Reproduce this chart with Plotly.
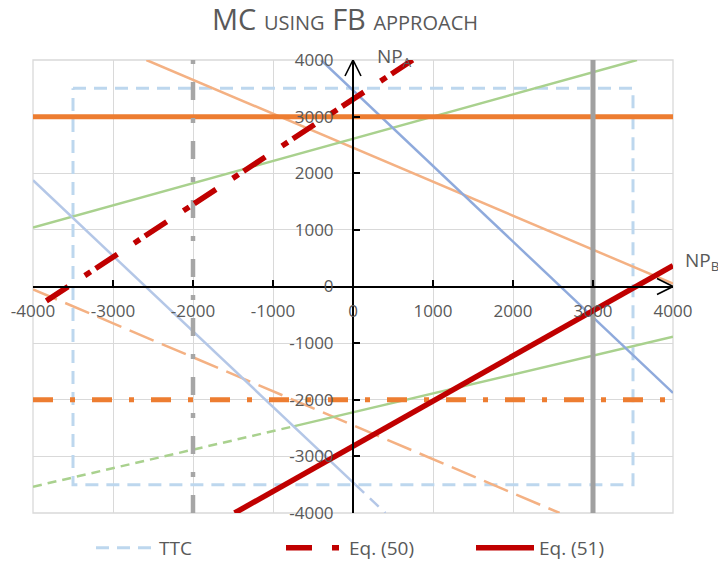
import plotly.graph_objects as go

# ---------------- data ----------------
axis_min, axis_max = -4000, 4000
tick_vals = [-4000, -3000, -2000, -1000, 0, 1000, 2000, 3000, 4000]
tick_text = [str(v) for v in tick_vals]

ttc_x = [-3500, 3500, 3500, -3500, -3500]
ttc_y = [3500, 3500, -3500, -3500, 3500]

eq50_x = [-3833, 746]
eq50_y = [-254, 4000]

eq51_x = [-1480, 4000]
eq51_y = [-4000, 370]

peach_solid_x = [-2583, 4000]
peach_solid_y = [4000, 50]
peach_dash_x = [-4000, 2583]
peach_dash_y = [-50, -4000]

green_upper_x = [-4000, 3550]
green_upper_y = [1040, 4000]
green_lower_dash_x = [-4000, -745]
green_lower_dash_y = [-3536, -2470]
green_lower_solid_x = [-745, 4000]
green_lower_solid_y = [-2470, -889]

blue_upper_x = [-400, 4000]
blue_upper_y = [4000, -1880]
blue_lower_solid_x = [-4000, 30]
blue_lower_solid_y = [1876, -3500]
blue_lower_dash_x = [30, 405]
blue_lower_dash_y = [-3500, -4000]

orange_solid_y = 3000
orange_dashdot_y = -2000
gray_solid_x = 3000
gray_dashdot_x = -2000

legend_names = ["TTC", "Eq. (50)", "Eq. (51)"]

# ---------------- styling ----------------
W, H = 718, 561
ML, MR, MT, MB = 33, 45, 60, 48
TXT = "#595959"
FONT = "Open Sans"

fig = go.Figure()


def add_line(x, y, color, width, dash="solid", name=None, show=False):
    fig.add_trace(go.Scatter(
        x=x, y=y, mode="lines", name=name, showlegend=show,
        line=dict(color=color, width=width, dash=dash),
        hoverinfo="skip"))


add_line(ttc_x, ttc_y, "#BDD7EE", 3, "13px,8px", legend_names[0], True)
add_line(peach_solid_x, peach_solid_y, "#F4B183", 2.5)
add_line(peach_dash_x, peach_dash_y, "#F4B183", 2.5, "26px,9px")
add_line(green_upper_x, green_upper_y, "#A9D18E", 2.5)
add_line(green_lower_dash_x, green_lower_dash_y, "#A9D18E", 2.5, "9px,6px")
add_line(green_lower_solid_x, green_lower_solid_y, "#A9D18E", 2.5)
add_line(blue_upper_x, blue_upper_y, "#8FAADC", 2.5)
add_line(blue_lower_solid_x, blue_lower_solid_y, "#B4C7E7", 2.5)
add_line(blue_lower_dash_x, blue_lower_dash_y, "#B4C7E7", 2.5, "12px,8px")
add_line([axis_min, axis_max], [orange_solid_y, orange_solid_y], "#ED7D31", 5)
add_line([axis_min, axis_max], [orange_dashdot_y, orange_dashdot_y], "#ED7D31", 5,
         "20px,17px,5px,17px")
add_line([gray_solid_x, gray_solid_x], [axis_min, axis_max], "#A0A0A0", 5)
add_line([gray_dashdot_x, gray_dashdot_x], [axis_min, axis_max], "#A6A6A6", 4.5,
         "18px,18px,5px,18px")
add_line(eq50_x, eq50_y, "#C00000", 5.5, "26px,20px,7px,6px", legend_names[1], True)
add_line(eq51_x, eq51_y, "#C00000", 5.5, "solid", legend_names[2], True)

# pixel -> data conversion for the axis arrow heads
plot_w = W - ML - MR
plot_h = H - MT - MB
ux = (axis_max - axis_min) / plot_w
uy = (axis_max - axis_min) / plot_h
arm_w, arm_l = 8, 16

shapes = [
    dict(type="rect", xref="paper", yref="paper", x0=0, y0=0, x1=1, y1=1,
         line=dict(color="#D9D9D9", width=1.3), layer="below"),
    dict(type="path", xref="x", yref="y", layer="above",
         path=f"M {-arm_w*ux},{axis_max-arm_l*uy} L 0,{axis_max} L {arm_w*ux},{axis_max-arm_l*uy}",
         line=dict(color="black", width=1.6)),
    dict(type="path", xref="x", yref="y", layer="above",
         path=f"M {axis_max-arm_l*ux},{arm_w*uy} L {axis_max},0 L {axis_max-arm_l*ux},{-arm_w*uy}",
         line=dict(color="black", width=1.6)),
]

annotations = [
    dict(x=(375 - ML) / plot_w, y=(H - MB - 57) / plot_h,
         xref="paper", yref="paper", xanchor="left", yanchor="middle",
         text="NP<sub>A</sub>", showarrow=False,
         font=dict(family=FONT, size=19, color=TXT)),
    dict(x=(683 - ML) / plot_w, y=(H - MB - 261) / plot_h,
         xref="paper", yref="paper", xanchor="left", yanchor="middle",
         text="NP<sub>B</sub>", showarrow=False,
         font=dict(family=FONT, size=19, color=TXT)),
]

axis_common = dict(
    range=[axis_min, axis_max], tickvals=tick_vals, ticktext=tick_text,
    showgrid=True, gridcolor="#D9D9D9", gridwidth=1.3, zeroline=False,
    showline=True, linecolor="black", linewidth=2,
    anchor="free", position=0.5, automargin=False,
    ticks="inside", ticklen=6, tickwidth=1.5, tickcolor="black",
    tickfont=dict(family=FONT, size=17, color=TXT),
    fixedrange=True,
)

fig.update_layout(
    width=W, height=H,
    margin=dict(l=ML, r=MR, t=MT, b=MB, autoexpand=False),
    paper_bgcolor="white", plot_bgcolor="white",
    title=dict(
        text="MC <span style='font-size:20px'>USING</span> FB "
             "<span style='font-size:20px'>APPROACH</span>",
        x=345 / W, xanchor="center", xref="container",
        y=1 - 20 / H, yanchor="middle", yref="container",
        font=dict(family=FONT, size=29, color=TXT)),
    xaxis=dict(**axis_common, ticklabelstandoff=9),
    yaxis=dict(**axis_common, side="left", ticklabelstandoff=15),
    showlegend=True,
    legend=dict(orientation="h", x=(91 - ML) / plot_w, xanchor="left",
                y=1 - 548 / H, yanchor="middle", yref="container",
                font=dict(family=FONT, size=19, color=TXT),
                itemwidth=58, entrywidth=117, entrywidthmode="pixels",
                bgcolor="rgba(0,0,0,0)"),
    shapes=shapes,
    annotations=annotations,
)

fig.write_html(
    "out.html",
    config={"displayModeBar": False},
    post_script="document.body.style.margin='0px';document.body.style.padding='0px';",
)
